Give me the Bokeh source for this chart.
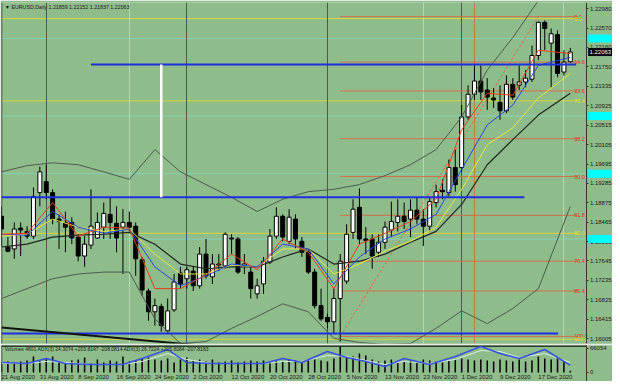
import numpy as np
from bokeh.plotting import figure
from bokeh.models import Range1d, FixedTicker
from bokeh.layouts import column
from bokeh.embed import file_html
from bokeh.resources import INLINE
from bokeh.core.properties import value

# ---------------- data ----------------
opens = [1.1859,1.1794,1.1790,1.1834,1.1827,1.1817,1.1909,1.1932,1.1909,1.1853,
         1.1846,1.1846,1.1815,1.1775,1.1798,1.1813,1.1836,1.1863,1.1844,1.1836,
         1.1846,1.1838,1.1767,1.1701,1.1657,1.1668,1.1617,1.1661,1.1739,1.1727,
         1.1743,1.1712,1.1779,1.1731,1.1758,1.1754,1.1813,1.1811,1.1754,1.1741,
         1.1695,1.1716,1.1762,1.1817,1.1859,1.1806,1.1853,1.1806,1.1783,1.1741,
         1.1670,1.1645,1.1636,1.1685,1.1722,1.1825,1.1878,1.1811,1.1811,1.1783,
         1.1804,1.1830,1.1846,1.1859,1.1853,1.1872,1.1853,1.1838,1.1888,1.1914,
         1.1909,1.1962,1.1962,1.2069,1.2117,1.2145,1.2126,1.2109,1.2100,1.2082,
         1.2138,1.2136,1.2143,1.2149,1.2199,1.2269,1.2225,1.2243,1.2164,1.21859]
highs = [1.1880,1.1815,1.1846,1.1846,1.1838,1.1920,1.1964,1.1968,1.1916,1.1863,
         1.1869,1.1857,1.1821,1.1817,1.1916,1.1867,1.1888,1.1899,1.1880,1.1874,
         1.1869,1.1846,1.1773,1.1706,1.1685,1.1674,1.1685,1.1737,1.1752,1.1752,
         1.1752,1.1794,1.1811,1.1779,1.1779,1.1825,1.1821,1.1815,1.1779,1.1752,
         1.1727,1.1773,1.1832,1.1878,1.1863,1.1874,1.1863,1.1815,1.1790,1.1748,
         1.1706,1.1653,1.1706,1.1779,1.1842,1.1895,1.1918,1.1836,1.1821,1.1821,
         1.1848,1.1890,1.1895,1.1888,1.1895,1.1899,1.1874,1.1899,1.1926,1.1937,
         1.1979,1.2000,1.2094,1.2136,1.2178,1.2178,1.2151,1.2130,1.2136,1.2157,
         1.2151,1.2178,1.2168,1.2220,1.2271,1.2273,1.2256,1.2252,1.2210,1.22152]
lows = [1.1796,1.1783,1.1769,1.1775,1.1811,1.1811,1.1880,1.1895,1.1842,1.1790,
        1.1783,1.1800,1.1764,1.1752,1.1790,1.1811,1.1811,1.1811,1.1783,1.1737,
        1.1827,1.1733,1.1691,1.1638,1.1628,1.1615,1.1613,1.1657,1.1706,1.1706,
        1.1701,1.1706,1.1727,1.1716,1.1743,1.1748,1.1779,1.1737,1.1737,1.1685,
        1.1685,1.1695,1.1758,1.1811,1.1806,1.1800,1.1790,1.1773,1.1737,1.1664,
        1.1638,1.1622,1.1611,1.1594,1.1716,1.1811,1.1800,1.1779,1.1748,1.1773,
        1.1790,1.1815,1.1827,1.1832,1.1815,1.1842,1.1796,1.1827,1.1878,1.1895,
        1.1901,1.1911,1.1953,1.2063,1.2105,1.2105,1.2084,1.2088,1.2063,1.2077,
        1.2105,1.2126,1.2132,1.2143,1.2189,1.2210,1.2132,1.2153,1.2157,1.21837]
closes = [1.1832,1.1785,1.1832,1.1830,1.1817,1.1901,1.1953,1.1909,1.1853,1.1848,
          1.1836,1.1813,1.1775,1.1800,1.1838,1.1846,1.1865,1.1846,1.1813,1.1846,
          1.1836,1.1769,1.1703,1.1657,1.1670,1.1628,1.1659,1.1720,1.1716,1.1746,
          1.1712,1.1779,1.1733,1.1758,1.1756,1.1821,1.1811,1.1741,1.1758,1.1706,
          1.1712,1.1764,1.1817,1.1859,1.1815,1.1857,1.1811,1.1783,1.1741,1.1670,
          1.1642,1.1636,1.1685,1.1764,1.1821,1.1874,1.1811,1.1808,1.1775,1.1804,
          1.1836,1.1848,1.1859,1.1848,1.1872,1.1853,1.1838,1.1890,1.1911,1.1911,
          1.1962,1.1926,1.2069,1.2117,1.2145,1.2122,1.2111,1.2105,1.2082,1.2138,
          1.2111,1.2143,1.2151,1.2199,1.2269,1.2256,1.2245,1.2161,1.2185,1.22063]
volumes = [27500,30300,27500,30300,33000,44000,33000,38500,44000,30300,
           27500,33000,35800,41300,24800,35800,27500,33000,30300,44000,
           30300,33000,38500,41300,35800,33000,38500,27500,35800,41300,
           33000,35800,30300,35800,27500,30300,33000,27500,30300,33000,
           30300,33000,27500,33000,30300,35800,33000,30300,33000,35800,
           33000,30300,38500,71600,44000,44000,52300,46800,35800,30300,
           33000,35800,27500,30300,33000,30300,35800,33000,30300,27500,
           33000,35800,38500,35800,33000,35800,33000,30300,35800,33000,
           30300,35800,30300,33000,44000,38500,35800,41300,33000,4801]

date_labels = ["21 Aug 2020", "31 Aug 2020", "8 Sep 2020", "16 Sep 2020", "24 Sep 2020",
               "2 Oct 2020", "12 Oct 2020", "20 Oct 2020", "28 Oct 2020", "5 Nov 2020",
               "13 Nov 2020", "23 Nov 2020", "1 Dec 2020", "9 Dec 2020", "17 Dec 2020"]
date_bars = [0, 6, 12, 18, 24, 30, 36, 42, 48, 54, 60, 66, 72, 78, 84]

price_ticks = [1.22980, 1.22570, 1.22160, 1.21750, 1.21335, 1.20925, 1.20515, 1.20105,
               1.19695, 1.19285, 1.18875, 1.18465, 1.18055, 1.17645, 1.17235, 1.16825,
               1.16415, 1.16005]
price_tick_text = ["1.22980", "1.22570", "1.22160", "1.21750", "1.21335", "1.20925", "1.20515",
                   "1.20105", "1.19695", "1.19285", "1.18875", "1.18465", "1.18055", "1.17645",
                   "1.17235", "1.16825", "1.16415", "1.16005"]

# indicator lines read at sample bars
ind_bars = [0,4,8,12,16,20,24,28,32,36,40,44,48,52,56,60,64,68,72,76,80,84,89]
ma_red = [1.1821,1.1823,1.1888,1.1817,1.1836,1.1834,1.1706,1.1706,1.1735,1.1779,1.1746,1.1811,
          1.1783,1.1706,1.1800,1.1823,1.1848,1.1895,1.2042,1.2119,1.2115,1.2210,1.2203]
ma_blue = [1.1821,1.1819,1.1869,1.1836,1.1823,1.1832,1.1752,1.1712,1.1733,1.1758,1.1752,1.1800,
           1.1790,1.1716,1.1773,1.1811,1.1832,1.1863,1.1958,1.2052,1.2094,1.2178,1.2195]
ma_yellow = [1.1817,1.1821,1.1853,1.1836,1.1827,1.1832,1.1779,1.1737,1.1737,1.1756,1.1752,1.1790,
             1.1790,1.1737,1.1758,1.1785,1.1806,1.1836,1.1916,1.2010,1.2046,1.2109,1.2161]
ma_black = [1.1794,1.1800,1.1815,1.1819,1.1821,1.1825,1.1800,1.1758,1.1748,1.1752,1.1752,1.1773,
            1.1790,1.1758,1.1764,1.1779,1.1804,1.1827,1.1884,1.1968,1.2021,1.2073,1.2119]
band_up = [1.1953,1.1966,1.1972,1.1968,1.1953,1.1937,1.2000,1.1953,1.1926,1.1899,1.1869,1.1895,
           1.1911,1.1916,1.1926,1.1945,1.1968,1.2000,1.2069,1.2168,1.2237,1.2315,1.2367]
band_dn = [1.1685,1.1706,1.1727,1.1737,1.1741,1.1741,1.1642,1.1590,1.1594,1.1622,1.1647,1.1674,
           1.1657,1.1601,1.1592,1.1588,1.1590,1.1622,1.1659,1.1632,1.1664,1.1706,1.1880]

vol_ind_bars = [0,4,7,10,14,19,22,26,29,33,37,41,44,47,51,54,57,60,63,67,71,75,78,81,85,89]
vol_blue = [27500,24800,38500,24800,22000,22000,38500,63300,27500,24800,24800,24800,38500,
            27500,57800,41300,30300,16500,38500,22000,44000,71600,52300,38500,63300,19300]
vol_light = [24800,24800,30300,27500,22000,22000,30300,52300,35800,24800,24800,24800,30300,
             30300,46800,44000,33000,22000,30300,24800,35800,60500,57800,41300,52300,27500]

fib_levels = [1.2281, 1.2185, 1.2124, 1.2023, 1.1943, 1.1861, 1.1764, 1.1701, 1.1605]
fib_text = ["0.0", "14.6", "23.6", "38.2", "50.0", "61.8", "76.4", "85.4", "100.0"]
yel_levels = [1.2277, 1.2103, 1.1823, 1.1599]
yel_text = ["0.0", "76.4", "50.0", "100.0"]
teal_levels = [1.2235, 1.2071, 1.1949, 1.1811]
blue_levels = [1.2180, 1.1899, 1.1611]
blue_from = [14, 0, 0]
blue_to = [89.9, 81.8, 87.1]
month_bars = [7, 29, 51, 72]
light_bars = [20, 66, 88]

# ---------------- styling ----------------
BG = "#8fbc8b"
DARK = "#2e3a2e"
FONT = "Liberation Sans"
AX = 91.6          # bar position of the price scale line
X_END = 95.6

xr = Range1d(0, X_END)
p = figure(width=612, height=344, x_range=xr, y_range=Range1d(1.1590, 1.2311),
           output_backend="svg", toolbar_location=None,
           x_axis_location=None, y_axis_location="right",
           min_border_left=1, min_border_right=0, min_border_top=2, min_border_bottom=1,
           background_fill_color=BG, border_fill_color=BG)
p.grid.visible = False
p.outline_line_color = None
ya = p.yaxis[0]
ya.fixed_location = AX
ya.ticker = FixedTicker(ticks=price_ticks)
ya.major_label_overrides = {t: s for t, s in zip(price_ticks, price_tick_text)}
ya.major_label_text_font = FONT
ya.major_label_text_font_size = "6px"
ya.major_label_text_color = "#1a1a1a"
ya.major_label_standoff = 1
ya.major_tick_out = 2
ya.major_tick_in = 0
ya.minor_tick_out = 0
ya.axis_line_color = DARK
ya.major_tick_line_color = DARK

# background horizontal/vertical objects
n_t = len(teal_levels)
p.segment(x0=[0]*n_t, y0=teal_levels, x1=[AX]*n_t, y1=teal_levels, line_color="#86d2b4",
          line_width=1)
p.segment(x0=[0]*len(yel_levels), y0=yel_levels, x1=[90.2]*len(yel_levels), y1=yel_levels,
          line_color="#d6d63c", line_width=1)
p.vspan(x=light_bars, line_color="#b6d8b0", line_width=1)
p.vspan(x=[0], line_color=DARK, line_width=1.5)
p.vspan(x=month_bars, line_color="#4c5a4c", line_width=1)
p.vspan(x=[74], line_color="#c07a50", line_width=1)
p.segment(x0=[53]*len(fib_levels), y0=fib_levels, x1=[90.2]*len(fib_levels), y1=fib_levels,
          line_color="#d0704c", line_width=1)
p.line(x=[53, 84], y=[fib_levels[-1], fib_levels[0]], line_color="#d0704c", line_width=1,
       line_dash="3 2")
p.text(x=[89.6]*len(fib_levels), y=fib_levels, text=fib_text, text_color="#e0301c",
       text_font=value(FONT), text_font_size="5.5px", text_baseline="middle", text_align="left")
p.text(x=[89.6]*len(yel_levels), y=yel_levels, text=yel_text, text_color="#e8e020",
       text_font=value(FONT), text_font_size="5.5px", text_baseline="middle", text_align="left")

# candles
idx = np.arange(len(closes))
o = np.array(opens); c = np.array(closes); h = np.array(highs); l = np.array(lows)
up = c >= o
p.segment(x0=idx, y0=l, x1=idx, y1=h, line_color="black", line_width=1)
p.vbar(x=idx[up], width=0.62, bottom=o[up], top=c[up], fill_color="white", line_color="black",
       line_width=1)
p.vbar(x=idx[~up], width=0.62, bottom=c[~up], top=o[~up], fill_color="black", line_color="black",
       line_width=1)

# indicators
p.line(ind_bars, band_up, line_color="#4e5a4e", line_width=1)
p.line(ind_bars, band_dn, line_color="#4e5a4e", line_width=1)
p.line(ind_bars, ma_black, line_color="#1e261e", line_width=1.2)
p.line(ind_bars, ma_yellow, line_color="#e6e646", line_width=1)
p.line(ind_bars, ma_blue, line_color="#2846e6", line_width=1)
p.line(ind_bars, ma_red, line_color="#e2401e", line_width=1)

# drawn objects
p.segment(x0=blue_from, y0=blue_levels, x1=blue_to, y1=blue_levels, line_color="#1f2fe0",
          line_width=2)
p.segment(x0=[25], y0=[blue_levels[1]], x1=[25], y1=[blue_levels[0]], line_color="white",
          line_width=2.5)
p.line(x=[0, 31], y=[1.1624, 1.1586], line_color="#101410", line_width=2)

# header
p.text(x=[0.5], y=[1.2302], text=["\u25bc EURUSD,Daily  1.21859 1.22152 1.21837 1.22063"],
       text_font=value(FONT), text_font_size="5.3px", text_color="#1a1a1a",
       text_baseline="middle", text_align="left")

# price boxes on the scale (drawn above the axis)
BOX = 0.00085
p.quad(left=[AX + 0.2]*n_t, right=[X_END]*n_t,
       bottom=[t - BOX for t in teal_levels], top=[t + BOX for t in teal_levels],
       fill_color="#00ffff", line_color=None, level="overlay")
p.quad(left=[AX + 0.2], right=[X_END], bottom=[closes[-1] - BOX], top=[closes[-1] + BOX],
       fill_color="black", line_color=None, level="overlay")
p.text(x=[AX + 0.4], y=[closes[-1]], text=["1.22063"], text_color="white",
       text_font=value(FONT), text_font_size="6px", text_baseline="middle",
       text_align="left", level="overlay")

# ---------------- volume panel ----------------
VMAX = 66054
v = figure(width=612, height=37, x_range=xr, y_range=Range1d(-24770, 74304),
           output_backend="svg", toolbar_location=None,
           x_axis_location=None, y_axis_location="right",
           min_border_left=1, min_border_right=0, min_border_top=1, min_border_bottom=0,
           background_fill_color=BG, border_fill_color=BG)
v.grid.visible = False
v.outline_line_color = None
va = v.yaxis[0]
va.fixed_location = AX
va.ticker = FixedTicker(ticks=[0, VMAX])
va.major_label_overrides = {0: "0", VMAX: str(VMAX)}
va.major_label_text_font = FONT
va.major_label_text_font_size = "6px"
va.major_label_text_color = "#1a1a1a"
va.major_label_standoff = 1
va.major_tick_out = 2
va.major_tick_in = 0
va.minor_tick_out = 0
va.axis_line_color = DARK
va.major_tick_line_color = DARK
v.vspan(x=[0], line_color=DARK, line_width=1.5)
v.segment(x0=[0], y0=[73500], x1=[AX], y1=[73500], line_color=DARK, line_width=2.5)
v.segment(x0=idx, y0=0, x1=idx, y1=volumes, line_color="black", line_width=1.5)
v.line(vol_ind_bars, vol_light, line_color="#d6efe0", line_width=1)
v.line(vol_ind_bars, vol_blue, line_color="#3a52e0", line_width=1.5)
v.text(x=[0.5], y=[64000],
       text=["Volumes 4801  ADX(3) 24.3074 +203.8147 -208.0814  ADX(3) 26.7224 +205.8084 -207.8183"],
       text_font=value(FONT), text_font_size="5px", text_color="#1a1a1a",
       text_baseline="middle", text_align="left")
v.text(x=date_bars, y=[-11500]*len(date_bars), text=date_labels, text_font=value(FONT),
       text_font_size="6px", text_color="#1a1a1a", text_baseline="middle", text_align="left")

layout = column(p, v, spacing=0)
open("out.html", "w").write(file_html(layout, INLINE))
